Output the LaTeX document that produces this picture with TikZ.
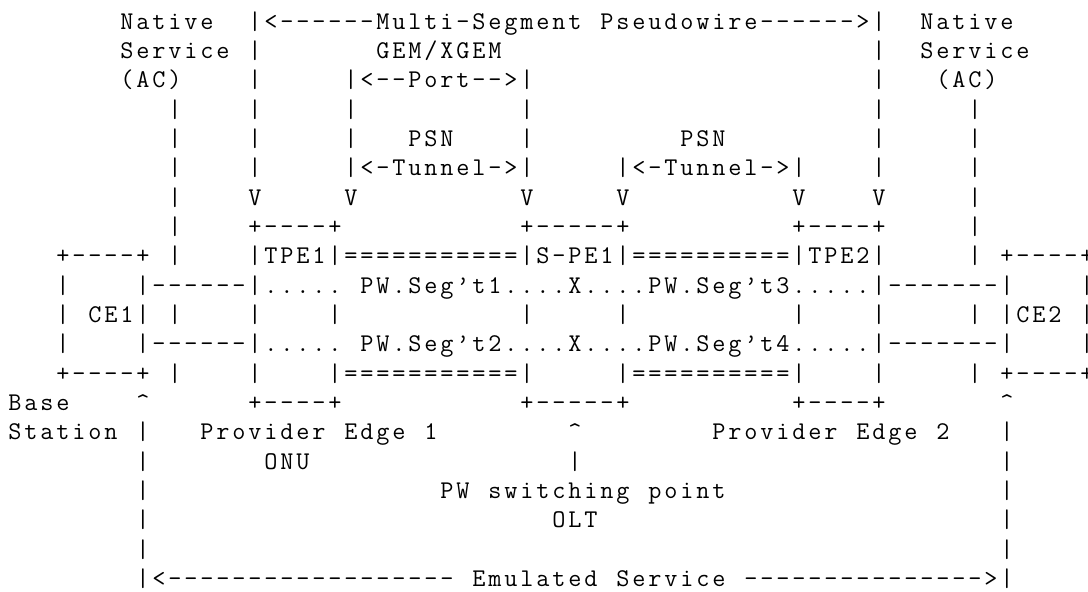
\documentclass[tikz,border=0pt]{standalone}
\usepackage{fontspec}
% every character sits centred in its own 16pt cell of the text grid
\ExplSyntaxOn
\NewDocumentCommand \gridtext { m }
  { \str_map_inline:nn {#1} { \makebox[16pt][c]{##1} } }
\ExplSyntaxOff
\tikzset{
  a/.style={anchor=base west, inner sep=0pt, outer sep=0pt,
            font=\fontsize{25.5pt}{30pt}\selectfont\ttfamily, text=black}
}
% \txt{name}{column}{row}{characters}
\newcommand\txt[4]{\node[a] (#1) at (#2,#3) {\gridtext{#4}};}
\begin{document}
\begin{tikzpicture}
\useasboundingbox (0,0) rectangle (1088pt,-592pt);
\clip (0,0) rectangle (1088pt,-592pt);
\fill[white] (0,0) rectangle (1088pt,-592pt);
% character grid: one column is 16pt wide, one row 29.35pt high
\begin{scope}[x=16pt, y=-29.35pt, shift={(7pt,-29pt)}]
% row 0
\txt{r0a}{7}{0}{Native}
\txt{r0b}{15}{0}{|<------Multi-Segment Pseudowire------>|}
\txt{r0c}{57}{0}{Native}
% row 1
\txt{r1a}{7}{1}{Service |}
\txt{r1b}{23}{1}{GEM/XGEM}
\txt{r1c}{54}{1}{|}
\txt{r1d}{57}{1}{Service}
% row 2
\txt{r2a}{7}{2}{(AC)}
\txt{r2b}{15}{2}{|}
\txt{r2c}{21}{2}{|<--Port-->|}
\txt{r2d}{54}{2}{|}
\txt{r2e}{58}{2}{(AC)}
% rows 3 and 4
\foreach \c in {10,15,21,32,54,60} {\txt{r3-\c}{\c}{3}{|} \txt{r4-\c}{\c}{4}{|}}
\txt{r4a}{25}{4}{PSN}
\txt{r4b}{42}{4}{PSN}
% row 5
\foreach \c in {10,15,54,60} {\txt{r5-\c}{\c}{5}{|}}
\txt{r5a}{21}{5}{|<-Tunnel->|}
\txt{r5b}{38}{5}{|<-Tunnel->|}
% row 6
\foreach \c in {10,60} {\txt{r6-\c}{\c}{6}{|}}
\foreach \c in {15,21,32,38,49,54} {\txt{r6v-\c}{\c}{6}{V}}
% row 7
\foreach \c in {10,60} {\txt{r7-\c}{\c}{7}{|}}
\txt{tpe1top}{15}{7}{+----+}
\txt{spe1top}{32}{7}{+-----+}
\txt{tpe2top}{49}{7}{+----+}
% row 8
\txt{r8a}{3}{8}{+----+ |}
\txt{r8b}{15}{8}{|TPE1|===========|S-PE1|==========|TPE2|}
\txt{r8c}{60}{8}{| +----+}
% row 9
\txt{r9a}{3}{9}{|}
\txt{r9b}{8}{9}{|------|..... PW.Seg’t1....X....PW.Seg’t3.....|-------|}
\txt{r9c}{67}{9}{|}
% row 10
\txt{r10a}{3}{10}{|}
\txt{r10b}{5}{10}{CE1| |}
\foreach \c in {15,20,32,38,49,54} {\txt{r10-\c}{\c}{10}{|}}
\txt{r10c}{60}{10}{| |CE2}
\txt{r10d}{67}{10}{|}
% row 11
\txt{r11a}{3}{11}{|}
\txt{r11b}{8}{11}{|------|..... PW.Seg’t2....X....PW.Seg’t4.....|-------|}
\txt{r11c}{67}{11}{|}
% row 12
\txt{r12a}{3}{12}{+----+ |}
\txt{r12b}{15}{12}{|}
\txt{r12c}{20}{12}{|===========|}
\txt{r12d}{38}{12}{|==========|}
\txt{r12e}{54}{12}{|}
\txt{r12f}{60}{12}{| +----+}
% row 13
\txt{r13a}{0}{13}{Base}
\txt{r13b}{8}{13}{^}
\txt{tpe1bot}{15}{13}{+----+}
\txt{spe1bot}{32}{13}{+-----+}
\txt{tpe2bot}{49}{13}{+----+}
\txt{r13c}{62}{13}{^}
% row 14
\txt{r14a}{0}{14}{Station |}
\txt{r14b}{12}{14}{Provider Edge 1}
\txt{r14c}{35}{14}{^}
\txt{r14d}{44}{14}{Provider Edge 2}
\txt{r14e}{62}{14}{|}
% row 15
\txt{r15a}{8}{15}{|}
\txt{r15b}{16}{15}{ONU}
\txt{r15c}{35}{15}{|}
\txt{r15d}{62}{15}{|}
% row 16
\txt{r16a}{8}{16}{|}
\txt{r16b}{27}{16}{PW switching point}
\txt{r16c}{62}{16}{|}
% row 17
\txt{r17a}{8}{17}{|}
\txt{r17b}{34}{17}{OLT}
\txt{r17c}{62}{17}{|}
% row 18
\txt{r18a}{8}{18}{|}
\txt{r18b}{62}{18}{|}
% row 19
\txt{r19a}{8}{19}{|<------------------ Emulated Service --------------->|}
\end{scope}
\end{tikzpicture}
\end{document}
